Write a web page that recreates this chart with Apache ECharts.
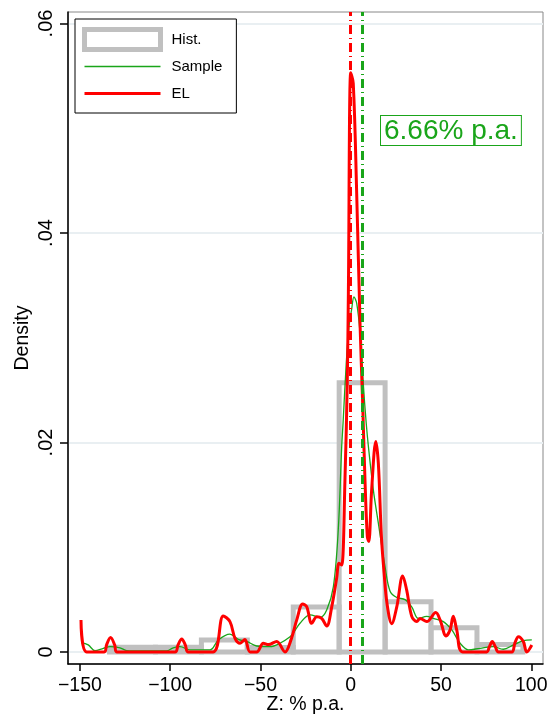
<!DOCTYPE html>
<html>
<head>
<meta charset="utf-8">
<script src="https://cdn.jsdelivr.net/npm/echarts@6/dist/echarts.min.js"></script>
<style>
  html, body { margin: 0; padding: 0; background: #fff; }
  #chart { width: 550px; height: 717px; }
</style>
</head>
<body>
<div id="chart"></div>
<script>
// histogram: first edge, bin width, heights
var histStart = -133.6;
var histWidth = 25.44;
var histHeights = [0.00045, 0.00045, 0.00115, 0.00042, 0.0043, 0.0257, 0.0048, 0.0023, 0.0007];

// kernel density of the sample [x, density]
var sampleCurve = [
    [-149.4, 0.00089], [-145.4, 0.00067], [-141.7, 0.00013], [-137, 0.00035], [-133.3, 0.0005],
    [-127.8, 0.0004], [-124.1, 0.00013], [-115, 0.0001], [-102, 0.0001], [-98.3, 0.0004],
    [-94.6, 0.0005], [-89, 0.0002], [-78, 0.0002], [-73.3, 0.00115], [-66.9, 0.0017],
    [-62.3, 0.0012], [-57.6, 0.001], [-52.1, 0.00057], [-44.7, 0.0005], [-39.2, 0.00083],
    [-33.6, 0.00146], [-31.8, 0.0018], [-28.1, 0.00274], [-22.5, 0.00354], [-17, 0.0033],
    [-13.3, 0.004], [-9.6, 0.00624], [-6.9, 0.01166], [-5, 0.0196], [-4.2, 0.022],
    [-2.5, 0.0275], [-1, 0.031], [0.5, 0.0327], [1.8, 0.0339], [3.3, 0.0333],
    [5.2, 0.0304], [7, 0.0255], [8.5, 0.022], [9.8, 0.0196], [12.5, 0.0155],
    [15.3, 0.0123], [19, 0.00815], [21.8, 0.0058], [25.5, 0.0052], [30.1, 0.005],
    [33.8, 0.0043], [37.5, 0.0032], [42.1, 0.0034], [45.8, 0.0032], [51.3, 0.0029],
    [56, 0.0021], [60.6, 0.00083], [65.2, 0.0002], [71.6, 0.00035], [79, 0.0005],
    [84.5, 0.00026], [90.1, 0.00067], [95.6, 0.00108], [100.3, 0.00115]
];

// EL density [x, density]
var elCurve = [
    [-149.4, 0.00306], [-146.3, 0], [-136.5, 0], [-135.2, 0.0007], [-133, 0.00137],
    [-130.8, 0.0007], [-129.4, 0], [-97.3, 0], [-95.6, 0.0007], [-93.6, 0.00124],
    [-91.7, 0.0007], [-90, 0], [-76.2, 0], [-70.6, 0.00344],
    [-66.9, 0.0029], [-64.1, 0.0013], [-61.3, 0.00083], [-58.6, 0.0012], [-55.8, 0],
    [-52.1, 0], [-48.4, 0.00083], [-45.6, 0.0007], [-41, 0.001], [-36.4, 0],
    [-33, 0.0012], [-29.9, 0.00306], [-26.6, 0.00459], [-24.4, 0.00433], [-21.6, 0.00274],
    [-18.8, 0.00337], [-16.1, 0.0032], [-13.3, 0.00248], [-10.5, 0.00433], [-7.8, 0.00704],
    [-6.5, 0.00847], [-5, 0.0083], [-3.2, 0.0164], [-1.9, 0.026], [-1.3, 0.0343],
    [0, 0.0553], [1.4, 0.0543], [3.3, 0.0438], [5.2, 0.0311], [6.6, 0.0238],
    [7.9, 0.0164], [9.2, 0.011], [10, 0.01054], [11.6, 0.0155], [13.9, 0.0201],
    [15.3, 0.018], [17, 0.011], [18.5, 0.0075], [20.2, 0.0045], [22.7, 0.0027],
    [25.5, 0.0043], [28.8, 0.00726], [31, 0.0059], [33.8, 0.0034], [36.6, 0.0029],
    [38.4, 0.0032], [42.1, 0.0029], [47.1, 0.00376], [49.5, 0.00306], [52.8, 0.00153],
    [55, 0.0021], [56.8, 0.0034], [58.7, 0.0021], [62, 0], [75.3, 0],
    [76.8, 0.0005], [78.4, 0.001], [80.1, 0.0005], [81.8, 0], [89.2, 0],
    [91, 0.0009], [92.9, 0.00146], [95.6, 0.001], [97.5, 0], [100.3, 0.00067]
];

var xTicks = [-150, -100, -50, 0, 50, 100];
var yTicks = [0, 0.02, 0.04, 0.06];
var elLine = 0;        // red reference line
var sampleMean = 6.66; // green reference line

var histData = histHeights.map(function(h, i) {
    return [histStart + i * histWidth, histStart + (i + 1) * histWidth, h];
});

var font = 'Liberation Sans, Arial, Helvetica, sans-serif';
var green = '#1aa51a';

var chart = echarts.init(document.getElementById('chart'));
var option = {
    animation: false,
    textStyle: { fontFamily: font },
    grid: {
        left: 68, top: 12, right: 7, bottom: 53,
        outerBoundsMode: 'none',
        show: true, borderColor: '#888', borderWidth: 1
    },
    legend: {
        orient: 'vertical',
        left: 75, top: 19,
        backgroundColor: '#fff',
        borderColor: '#000', borderWidth: 1,
        padding: [7, 14, 6, 7],
        itemWidth: 76, itemHeight: 20, itemGap: 0,
        textStyle: { fontSize: 15, lineHeight: 27, color: '#000', fontFamily: font, padding: [0, 0, 0, 6] },
        data: [
            { name: 'Hist.', icon: 'rect', itemStyle: { color: '#fff', borderColor: '#c0c0c0', borderWidth: 5 } },
            { name: 'Sample', icon: 'path://M0 0H76V1.4H0Z', itemStyle: { color: green, borderWidth: 0 } },
            { name: 'EL', icon: 'path://M0 0H76V3H0Z', itemStyle: { color: '#ff0000', borderWidth: 0 } }
        ]
    },
    xAxis: {
        type: 'value',
        min: -156.6, max: 106.5,
        name: 'Z: % p.a.',
        nameLocation: 'middle',
        nameGap: 31,
        nameMoveOverlap: false,
        nameTextStyle: { fontSize: 19.5, color: '#000', fontFamily: font },
        axisLine: { onZero: false, lineStyle: { color: '#000', width: 1.5 } },
        axisTick: { customValues: xTicks, length: 7, lineStyle: { color: '#000', width: 1.5 } },
        axisLabel: {
            customValues: xTicks, fontSize: 19.5, color: '#000', margin: 12,
            formatter: function(v) { return String(v).replace('-', '\u2212'); }
        },
        splitLine: { show: false }
    },
    yAxis: {
        type: 'value',
        min: -0.00115, max: 0.0611,
        name: 'Density',
        nameLocation: 'middle',
        nameGap: 35,
        nameMoveOverlap: false,
        nameTextStyle: { fontSize: 19.5, color: '#000', fontFamily: font },
        axisLine: { onZero: false, lineStyle: { color: '#000', width: 1.5 } },
        axisTick: { customValues: yTicks, length: 8, lineStyle: { color: '#000', width: 1.5 } },
        axisLabel: {
            customValues: yTicks, fontSize: 20, color: '#000', margin: 12, rotate: 90,
            formatter: function(v) { return v === 0 ? '0' : v.toFixed(2).replace(/^0/, ''); }
        },
        splitLine: { show: true, lineStyle: { color: '#e9eff2', width: 2 } }
    },
    graphic: [{
        type: 'text',
        left: 380, top: 115,
        style: {
            text: '6.66% p.a.',
            font: '28px ' + font,
            fill: green,
            borderColor: green,
            borderWidth: 1,
            padding: [1, 3, 0, 3],
            backgroundColor: '#fff'
        },
        z: 100
    }],
    series: [
        {
            name: 'Hist.',
            type: 'custom',
            data: histData,
            encode: { x: [0, 1], y: 2 },
            itemStyle: { color: '#fff', borderColor: '#c0c0c0', borderWidth: 5 },
            renderItem: function(params, api) {
                var p0 = api.coord([api.value(0), api.value(2)]);
                var p1 = api.coord([api.value(1), 0]);
                return {
                    type: 'rect',
                    shape: { x: p0[0], y: p0[1], width: p1[0] - p0[0], height: p1[1] - p0[1] },
                    style: { fill: 'none', stroke: '#c0c0c0', lineWidth: 5 }
                };
            },
            z: 1
        },
        {
            name: 'Sample',
            type: 'line',
            data: sampleCurve,
            showSymbol: false,
            symbol: 'none',
            smooth: 0.35,
            lineStyle: { color: green, width: 1.3 },
            itemStyle: { color: green },
            z: 2,
            markLine: {
                silent: true,
                symbol: 'none',
                label: { show: false },
                lineStyle: { color: green, width: 3, type: [9, 4, 1, 4] },
                data: [{ xAxis: sampleMean }]
            }
        },
        {
            name: 'EL',
            type: 'line',
            data: elCurve,
            showSymbol: false,
            symbol: 'none',
            smooth: 0.35,
            lineStyle: { color: '#ff0000', width: 3 },
            itemStyle: { color: '#ff0000' },
            z: 3,
            markLine: {
                silent: true,
                symbol: 'none',
                label: { show: false },
                lineStyle: { color: '#ff0000', width: 3, type: [9, 4, 1, 4] },
                data: [{ xAxis: elLine }]
            }
        }
    ]
};
chart.setOption(option);
</script>
</body>
</html>
